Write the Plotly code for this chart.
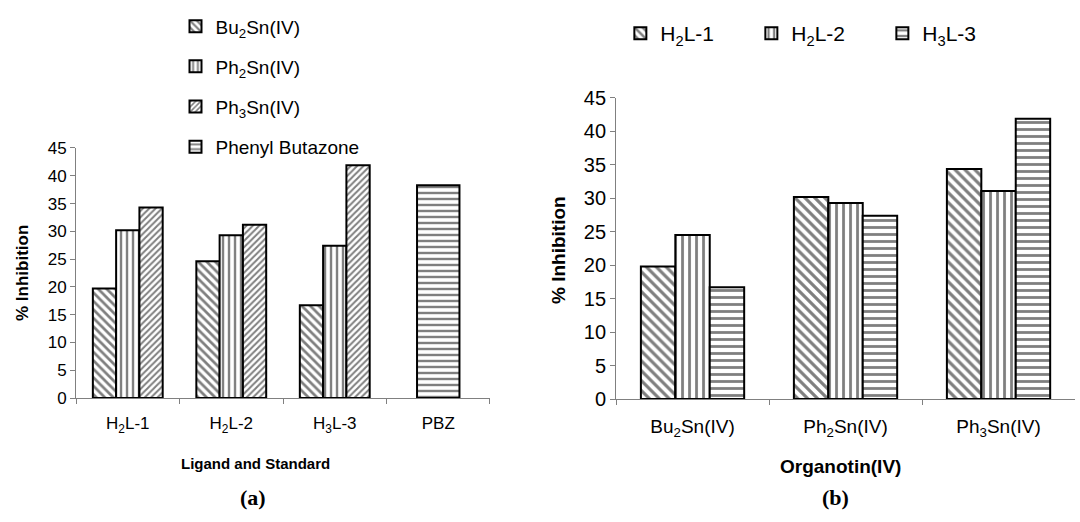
import plotly.graph_objects as go

# ---------------- data ----------------
cats_a = ["H<sub>2</sub>L-1", "H<sub>2</sub>L-2", "H<sub>3</sub>L-3", "PBZ"]
ligands = ["H<sub>2</sub>L-1", "H<sub>2</sub>L-2", "H<sub>3</sub>L-3"]
bu2sn = [19.7, 24.6, 16.7]
ph2sn = [30.2, 29.3, 27.4]
ph3sn = [34.3, 31.2, 41.9]
pbz_cat = ["PBZ"]
pbz = [38.3]

cats_b = ["Bu<sub>2</sub>Sn(IV)", "Ph<sub>2</sub>Sn(IV)", "Ph<sub>3</sub>Sn(IV)"]
h2l1 = [19.8, 30.2, 34.4]
h2l2 = [24.5, 29.3, 31.1]
h3l3 = [16.7, 27.4, 41.9]

yticks = [0, 5, 10, 15, 20, 25, 30, 35, 40, 45]

# ---------------- style ----------------
W = 0.225
OFFS = [-1.5 * W, -0.5 * W, 0.5 * W]
OUT = dict(color="black", width=2)
FONT = "Liberation Sans, Arial, sans-serif"


def pat(shape, size, sol):
    return dict(shape=shape, size=size, solidity=sol, fgcolor="black",
                bgcolor="white", fillmode="overlay")


fig = go.Figure()

# chart (a)
series_a = [("Bu<sub>2</sub>Sn(IV)", bu2sn, "\\", 6, 0.45),
            ("Ph<sub>2</sub>Sn(IV)", ph2sn, "|", 6, 0.4),
            ("Ph<sub>3</sub>Sn(IV)", ph3sn, "/", 4.5, 0.45)]
for i, (name, vals, shp, sz, so) in enumerate(series_a):
    fig.add_trace(go.Bar(
        x=ligands, y=vals, name=name, xaxis="x", yaxis="y",
        width=W, offset=OFFS[i], legend="legend", legendgroup=name,
        marker=dict(color="white", line=OUT, pattern=pat(shp, sz, so)),
    ))
fig.add_trace(go.Bar(
    x=pbz_cat, y=pbz, name="Phenyl Butazone", xaxis="x", yaxis="y",
    width=0.41, offset=-0.205, legend="legend", legendgroup="pbz",
    marker=dict(color="white", line=OUT, pattern=pat("-", 6, 0.4)),
))

# chart (b)
series_b = [("H<sub>2</sub>L-1", h2l1, "\\", 7, 0.45),
            ("H<sub>2</sub>L-2", h2l2, "|", 7, 0.4),
            ("H<sub>3</sub>L-3", h3l3, "-", 7, 0.4)]
for i, (name, vals, shp, sz, so) in enumerate(series_b):
    fig.add_trace(go.Bar(
        x=cats_b, y=vals, name=name, xaxis="x2", yaxis="y2",
        width=W, offset=OFFS[i], legend="legend2",
        marker=dict(color="white", line=OUT, pattern=pat(shp, sz, so)),
    ))

axis_common = dict(showline=True, linecolor="#808080", linewidth=1,
                   ticks="outside", tickcolor="#808080", ticklen=5,
                   showgrid=False, zeroline=False, automargin=False)

fig.update_layout(
    template="none",
    width=1080, height=522,
    margin=dict(l=0, r=0, t=0, b=0, pad=0),
    paper_bgcolor="white", plot_bgcolor="white",
    barmode="overlay",
    font=dict(family=FONT, color="black"),
    xaxis=dict(domain=[0.0704, 0.4537], anchor="y", type="category",
               categoryorder="array", categoryarray=cats_a,
               range=[-0.5, 3.5], tickson="boundaries",
               tickfont=dict(size=17),
               ticklabelstandoff=10, **axis_common),
    yaxis=dict(domain=[0.2375, 0.7165], anchor="x", range=[0, 45],
               tickvals=yticks, tickfont=dict(size=17), **axis_common),
    xaxis2=dict(domain=[0.5704, 0.9954], anchor="y2", type="category",
                categoryorder="array", categoryarray=cats_b,
                range=[-0.5, 2.5], tickson="boundaries",
                tickfont=dict(size=19),
                ticklabelstandoff=10, **axis_common),
    yaxis2=dict(domain=[0.2356, 0.8123], anchor="x2", range=[0, 45],
                tickvals=yticks, tickfont=dict(size=20), **axis_common),
    legend=dict(x=0.1625, y=0.986, xanchor="left", yanchor="top",
                orientation="v", font=dict(size=19), tracegroupgap=12.5,
                bgcolor="rgba(0,0,0,0)", traceorder="grouped"),
    legend2=dict(x=0.5744, y=0.975, xanchor="left", yanchor="top",
                 orientation="h", font=dict(size=21),
                 entrywidth=86, entrywidthmode="pixels",
                 bgcolor="rgba(0,0,0,0)"),
    showlegend=True,
)

annos = [
    dict(text="<b>% Inhibition</b>", x=22, y=273, textangle=-90, size=17),
    dict(text="<b>% Inhibition</b>", x=558, y=250, textangle=-90, size=19),
    dict(text="<b>Ligand and Standard</b>", x=255, y=463, textangle=0, size=15),
    dict(text="<b>Organotin(IV)</b>", x=840, y=466, textangle=0, size=19),
    dict(text="<b>(a)</b>", x=253, y=497, textangle=0, size=22, fam="Liberation Serif, Times New Roman, serif"),
    dict(text="<b>(b)</b>", x=835, y=497, textangle=0, size=22, fam="Liberation Serif, Times New Roman, serif"),
]
for a in annos:
    fig.add_annotation(
        text=a["text"], x=a["x"] / 1080, y=1 - a["y"] / 522,
        xref="paper", yref="paper", showarrow=False,
        textangle=a["textangle"], xanchor="center", yanchor="middle",
        font=dict(size=a["size"], family=a.get("fam", FONT), color="black"),
    )

fig.write_html(
    "out.html",
    config={"displayModeBar": False},
    post_script="document.body.style.margin='0';document.body.style.overflow='hidden';",
)
